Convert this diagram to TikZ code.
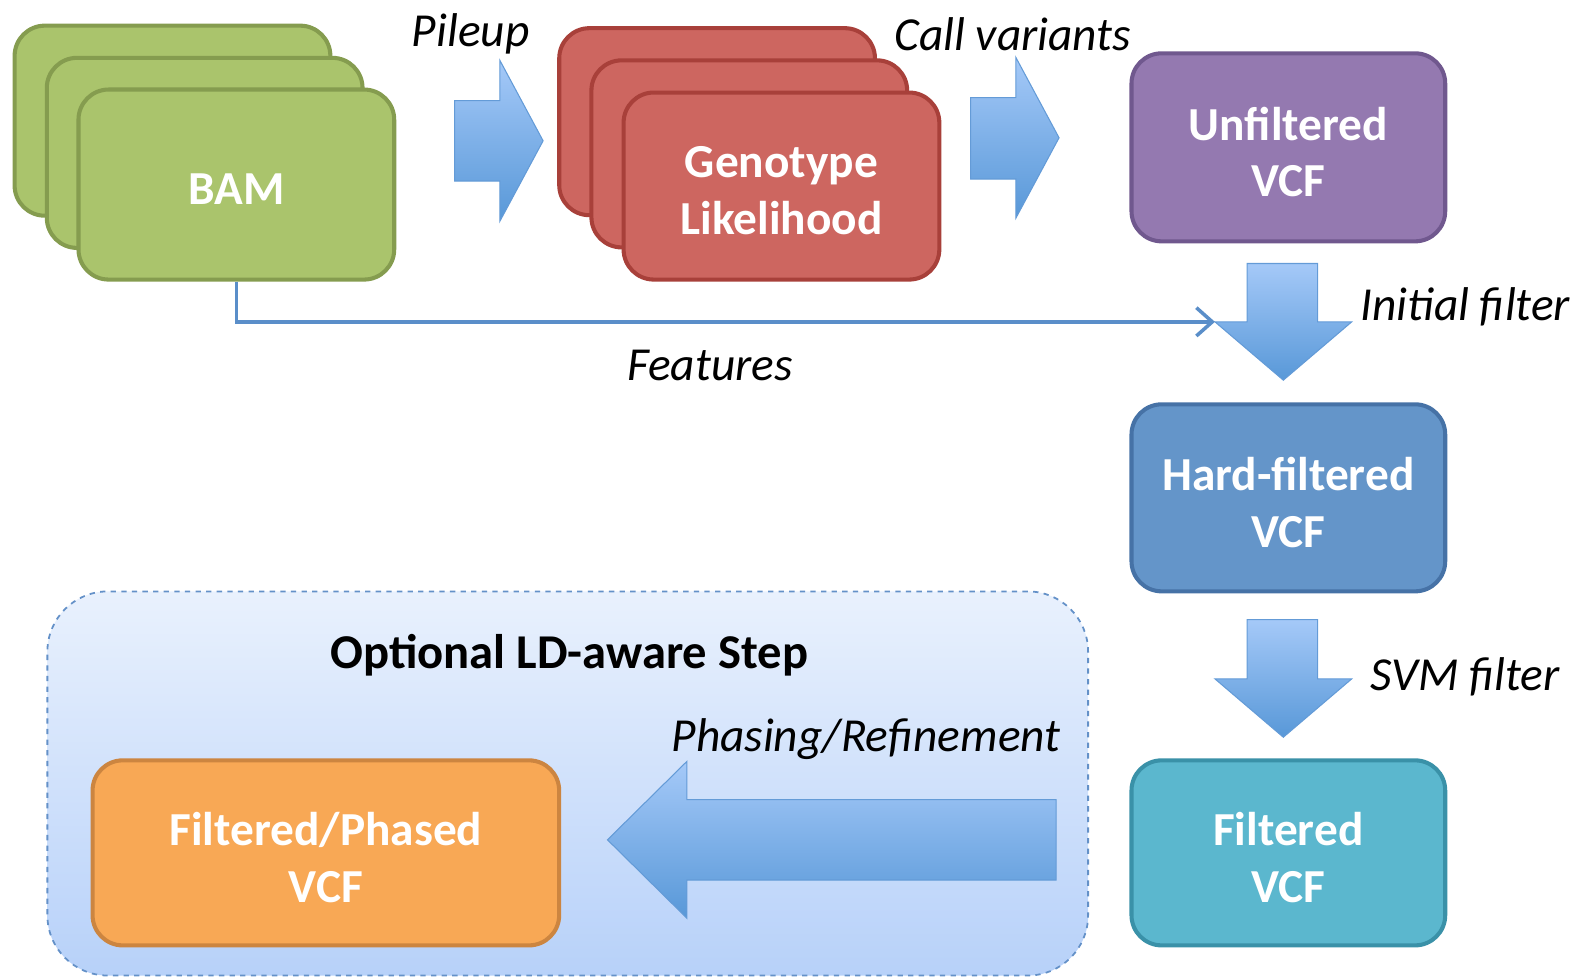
\documentclass[tikz,border=0pt]{standalone}
\usepackage{fontspec}
\setmainfont{Carlito}
\usetikzlibrary{arrows.meta}
\definecolor{gfill}{RGB}{170,196,108}
\definecolor{gline}{RGB}{133,156,79}
\definecolor{rfill}{RGB}{205,102,96}
\definecolor{rline}{RGB}{168,64,58}
\definecolor{pfill}{RGB}{148,121,176}
\definecolor{pline}{RGB}{112,88,142}
\definecolor{bfill}{RGB}{100,149,201}
\definecolor{bline}{RGB}{70,114,166}
\definecolor{cfill}{RGB}{91,183,206}
\definecolor{cline}{RGB}{58,145,168}
\definecolor{ofill}{RGB}{248,168,85}
\definecolor{oline}{RGB}{204,133,64}
\definecolor{arrtop}{RGB}{165,201,248}
\definecolor{arrbot}{RGB}{88,152,216}
\definecolor{arrline}{RGB}{100,155,215}
\definecolor{regtop}{RGB}{233,241,253}
\definecolor{regbot}{RGB}{183,209,249}
\definecolor{regline}{RGB}{100,145,200}
\definecolor{featline}{RGB}{90,142,201}
\tikzset{
  box/.style={rectangle, rounded corners=0.6cm, line width=2.3pt, inner sep=0pt},
  boxtext/.style={text=white, align=center, inner sep=0pt, yshift=-0.09cm,
    font=\bfseries\fontsize{26.8}{32}\selectfont},
  greenbox/.style={box, fill=gfill, draw=gline, minimum width=6.28cm, minimum height=3.78cm},
  redbox/.style={box, fill=rfill, draw=rline, minimum width=6.28cm, minimum height=3.72cm},
  blockarrow/.style={top color=arrtop, bottom color=arrbot, draw=arrline, line width=0.6pt, line join=miter},
  lbl/.style={font=\itshape\fontsize{26.8}{32}\selectfont, text=black, inner sep=0pt}
}
\begin{document}
\begin{tikzpicture}[x=0.02cm,y=-0.02cm]
\useasboundingbox (0,0) rectangle (1568,972);
% optional region
\shade[top color=regtop, bottom color=regbot, rounded corners=1.2cm] (47,588) rectangle (1082,970);
\node[draw=regline, dashed, line width=1pt, rounded corners=1.2cm, minimum width=20.7cm, minimum height=7.64cm, inner sep=0pt] (region) at (564.5,779) {};
\node[font=\bfseries\fontsize{27.5}{32}\selectfont, inner sep=0pt] (regtitle) at (566,651) {Optional LD-aware Step};

% BAM stack
\node[greenbox] (bam3) at (171.5,120) {};
\node[greenbox] (bam2) at (203.5,152) {};
\node[greenbox] (bam) at (235,183.5) {};
\node[boxtext] (bamt) at (bam.center) {BAM};

% Genotype stack
\node[redbox] (gl3) at (713,121) {};
\node[redbox] (gl2) at (745,153) {};
\node[redbox] (gl) at (777,185) {};
\node[boxtext] (glt) at (gl.center) {Genotype\\Likelihood};

% right column
\node[box, fill=pfill, draw=pline, minimum width=6.24cm, minimum height=3.74cm] (unf) at (1281,146.5) {};
\node[boxtext] (unft) at (unf.center) {Unfiltered\\VCF};
\node[box, fill=bfill, draw=bline, minimum width=6.24cm, minimum height=3.72cm] (hard) at (1281,495) {};
\node[boxtext] (hardt) at (hard.center) {Hard-filtered\\VCF};
\node[box, fill=cfill, draw=cline, minimum width=6.24cm, minimum height=3.68cm] (filt) at (1281,848) {};
\node[boxtext] (filtt) at (filt.center) {Filtered\\VCF};
\node[box, fill=ofill, draw=oline, minimum width=9.28cm, minimum height=3.68cm] (phased) at (324,848) {};
\node[boxtext] (phasedt) at (phased.center) {Filtered/Phased\\VCF};

% block arrows
\path[blockarrow] (452,100) -- (497,100) -- (497,60) -- (540,140) -- (497,220) -- (497,180) -- (452,180) -- cycle;
\path[blockarrow] (965,97) -- (1010,97) -- (1010,57) -- (1053,137) -- (1010,217) -- (1010,178) -- (965,178) -- cycle;
\path[blockarrow] (1240,262) -- (1310,262) -- (1310,320) -- (1344,320) -- (1276,378) -- (1208,320) -- (1240,320) -- cycle;
\path[blockarrow] (1240,616) -- (1310,616) -- (1310,675) -- (1344,675) -- (1276,733) -- (1208,675) -- (1240,675) -- cycle;
\path[blockarrow] (1050,795) -- (683,795) -- (683,757) -- (604,835) -- (683,913) -- (683,875) -- (1050,875) -- cycle;

% features connector
\coordinate (featend) at (1208,320);
\draw[featline, line width=2pt, -{Straight Barb[length=9pt,width=16pt,line width=2pt]}] (bam.south) |- (featend);

% labels
\node[lbl] (l1) at (468,34) {Pileup};
\node[lbl] (l2) at (1007,34) {Call variants};
\node[lbl] (l3) at (1457,305) {Initial filter};
\node[lbl] (l4) at (706,363) {Features};
\node[lbl] (l5) at (1457,673) {SVM filter};
\node[lbl] (l6) at (861,735) {Phasing/Refinement};
\end{tikzpicture}
\end{document}
